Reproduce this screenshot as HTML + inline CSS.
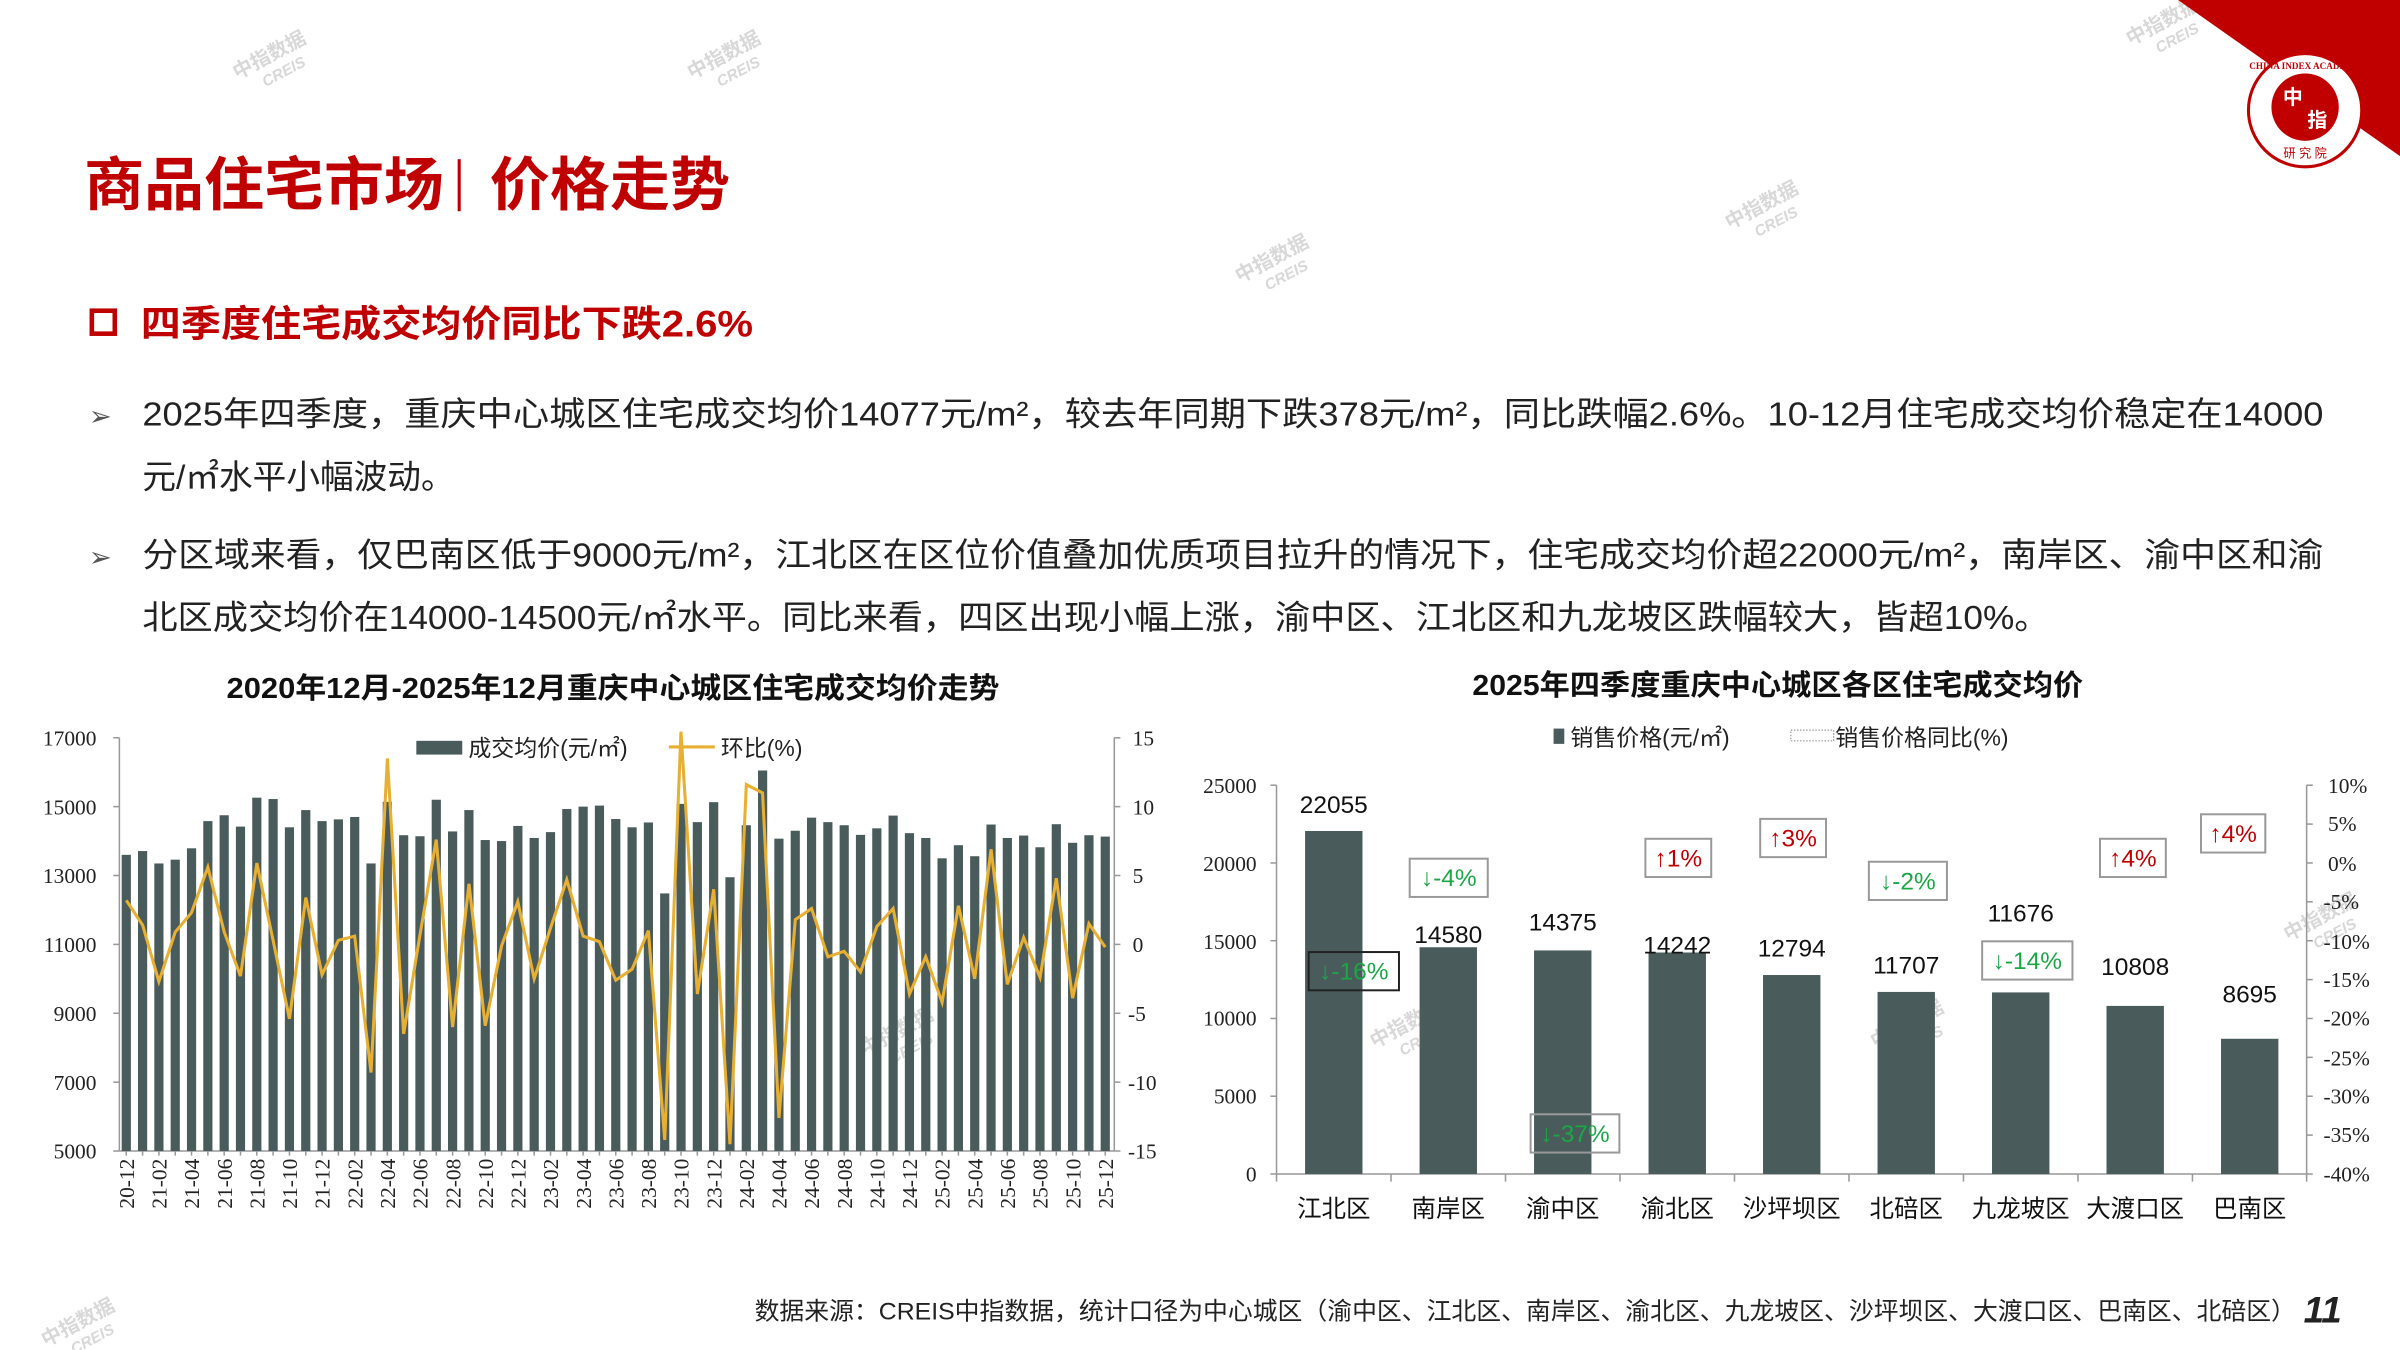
<!DOCTYPE html>
<html><head><meta charset="utf-8"><style>
html,body{margin:0;padding:0;background:#fff;}
svg{display:block;}
.cn{font-family:"Liberation Sans","Noto Sans CJK SC",sans-serif;}
.sr{font-family:"Liberation Serif","Noto Serif CJK SC",serif;}
</style></head><body>
<svg id="s" width="2400" height="1350" viewBox="0 0 1568 882" xmlns="http://www.w3.org/2000/svg">
<rect width="1568" height="882" fill="#fff"/>
<g fill="#d8d8d8" class="cn" font-size="13" font-weight="bold">
<g transform="translate(155,52) rotate(-28)"><text>中指数据</text><text x="14" y="13" font-size="10" font-style="italic">CREIS</text></g>
<g transform="translate(452,52) rotate(-28)"><text>中指数据</text><text x="14" y="13" font-size="10" font-style="italic">CREIS</text></g>
<g transform="translate(810,185) rotate(-28)"><text>中指数据</text><text x="14" y="13" font-size="10" font-style="italic">CREIS</text></g>
<g transform="translate(1130,150) rotate(-28)"><text>中指数据</text><text x="14" y="13" font-size="10" font-style="italic">CREIS</text></g>
<g transform="translate(1392,30) rotate(-28)"><text>中指数据</text><text x="14" y="13" font-size="10" font-style="italic">CREIS</text></g>
<g transform="translate(30,880) rotate(-28)"><text>中指数据</text><text x="14" y="13" font-size="10" font-style="italic">CREIS</text></g>
<g transform="translate(898,685) rotate(-28)"><text>中指数据</text><text x="14" y="13" font-size="10" font-style="italic">CREIS</text></g>
<g transform="translate(1225,685) rotate(-28)"><text>中指数据</text><text x="14" y="13" font-size="10" font-style="italic">CREIS</text></g>
<g transform="translate(565,690) rotate(-28)"><text>中指数据</text><text x="14" y="13" font-size="10" font-style="italic">CREIS</text></g>
<g transform="translate(1495,615) rotate(-28)"><text>中指数据</text><text x="14" y="13" font-size="10" font-style="italic">CREIS</text></g>
</g>
<polygon points="1423,0 1568,0 1568,102" fill="#c00000"/>
<circle cx="1506" cy="72" r="37" fill="#fff" stroke="#c00000" stroke-width="2"/>
<circle cx="1506" cy="70" r="22" fill="#c00000"/>
<text x="1498" y="68" fill="#fff" font-size="13" font-weight="bold" class="cn" text-anchor="middle">中</text>
<text x="1514" y="83" fill="#fff" font-size="13" font-weight="bold" class="cn" text-anchor="middle">指</text>
<text x="1506" y="103" fill="#c00000" font-size="8" class="cn" text-anchor="middle">研 究 院</text>
<text x="1506" y="45" fill="#c00000" font-size="6" class="sr" text-anchor="middle" font-weight="bold">CHINA INDEX ACADEMY</text>
<text x="55" y="134" fill="#c00000" font-size="38" font-weight="bold" class="cn" textLength="235" lengthAdjust="spacingAndGlyphs">商品住宅市场</text>
<rect x="299" y="104" width="2" height="34" fill="#c00000"/>
<text x="320" y="134" fill="#c00000" font-size="38" font-weight="bold" class="cn" textLength="157" lengthAdjust="spacingAndGlyphs">价格走势</text>
<rect x="60" y="203" width="15" height="15" fill="none" stroke="#c00000" stroke-width="3"/>
<text x="92" y="220" fill="#c00000" font-size="24" font-weight="bold" class="cn" textLength="400" lengthAdjust="spacingAndGlyphs">四季度住宅成交均价同比下跌2.6%</text>
<g class="cn" font-size="22" fill="#222">
<text x="58" y="278" fill="#555" font-size="18">➢</text>
<text x="93" y="278" textLength="1425" lengthAdjust="spacingAndGlyphs">2025年四季度，重庆中心城区住宅成交均价14077元/m²，较去年同期下跌378元/m²，同比跌幅2.6%。10-12月住宅成交均价稳定在14000</text>
<text x="93" y="319">元/㎡水平小幅波动。</text>
<text x="58" y="370" fill="#555" font-size="18">➢</text>
<text x="93" y="370" textLength="1425" lengthAdjust="spacingAndGlyphs">分区域来看，仅巴南区低于9000元/m²，江北区在区位价值叠加优质项目拉升的情况下，住宅成交均价超22000元/m²，南岸区、渝中区和渝</text>
<text x="93" y="411" textLength="1246" lengthAdjust="spacingAndGlyphs">北区成交均价在14000-14500元/㎡水平。同比来看，四区出现小幅上涨，渝中区、江北区和九龙坡区跌幅较大，皆超10%。</text>
</g>
<text x="148" y="456" font-size="19" font-weight="bold" class="cn" fill="#111" textLength="505" lengthAdjust="spacingAndGlyphs">2020年12月-2025年12月重庆中心城区住宅成交均价走势</text>
<text x="962" y="454" font-size="19" font-weight="bold" class="cn" fill="#111" textLength="399" lengthAdjust="spacingAndGlyphs">2025年四季度重庆中心城区各区住宅成交均价</text>
<g stroke="#999" stroke-width="1" fill="none">
<line x1="78" y1="482" x2="78" y2="752"/>
<line x1="728" y1="482" x2="728" y2="752"/>
<line x1="78" y1="752" x2="728" y2="752"/>
</g>
<g id="lc"></g>
<g class="sr" font-size="14" fill="#222" text-anchor="end">
<text x="63" y="487">17000</text><text x="63" y="532">15000</text><text x="63" y="577">13000</text><text x="63" y="622">11000</text><text x="63" y="667">9000</text><text x="63" y="712">7000</text><text x="63" y="757">5000</text>
</g>
<g class="sr" font-size="14" fill="#222">
<text x="740" y="487">15</text><text x="740" y="532">10</text><text x="740" y="577">5</text><text x="740" y="622">0</text><text x="737" y="667">-5</text><text x="737" y="712">-10</text><text x="737" y="757">-15</text>
</g>
<rect x="272" y="484" width="30" height="9" fill="#4a5b5c"/>
<text x="306" y="494" font-size="15" class="cn" fill="#222">成交均价(元/㎡)</text>
<line x1="437" y1="488" x2="467" y2="488" stroke="#e8b032" stroke-width="2"/>
<line x1="445" y1="482" x2="445" y2="494" stroke="#e8b032" stroke-width="2"/>
<text x="471" y="494" font-size="15" class="cn" fill="#222">环比(%)</text>
<g stroke="#999" stroke-width="1" fill="none">
<line x1="834" y1="513" x2="834" y2="767"/>
<line x1="1507" y1="513" x2="1507" y2="767"/>
<line x1="834" y1="767" x2="1507" y2="767"/>
</g>
<g id="rc"></g>
<g class="sr" font-size="14" fill="#222" text-anchor="end">
<text x="821" y="518">25000</text><text x="821" y="569">20000</text><text x="821" y="620">15000</text><text x="821" y="670">10000</text><text x="821" y="721">5000</text><text x="821" y="772">0</text>
</g>
<g class="sr" font-size="14" fill="#222">
<text x="1521" y="518">10%</text><text x="1521" y="543">5%</text><text x="1521" y="569">0%</text><text x="1518" y="594">-5%</text><text x="1518" y="620">-10%</text><text x="1518" y="645">-15%</text><text x="1518" y="670">-20%</text><text x="1518" y="696">-25%</text><text x="1518" y="721">-30%</text><text x="1518" y="746">-35%</text><text x="1518" y="772">-40%</text>
</g>
<rect x="1015" y="476" width="7" height="10" fill="#4a5b5c"/>
<text x="1026" y="487" font-size="15" class="cn" fill="#222">销售价格(元/㎡)</text>
<rect x="1170" y="477" width="28" height="7" fill="none" stroke="#999" stroke-dasharray="1,1" stroke-width="0.8"/>
<text x="1199" y="487" font-size="15" class="cn" fill="#222">销售价格同比(%)</text>
<text x="493" y="862" font-size="16" class="cn" fill="#222" textLength="1007" lengthAdjust="spacingAndGlyphs">数据来源：CREIS中指数据，统计口径为中心城区（渝中区、江北区、南岸区、渝北区、九龙坡区、沙坪坝区、大渡口区、巴南区、北碚区）</text>
<text x="1505" y="864" font-size="24" font-weight="bold" font-style="italic" class="cn" fill="#222">11</text>
</svg>
<script>
(function(){
var NS="http://www.w3.org/2000/svg";
function el(p,t,a,txt){var e=document.createElementNS(NS,t);for(var k in a)e.setAttribute(k,a[k]);if(txt!==undefined)e.textContent=txt;p.appendChild(e);return e;}
var bars=[13600,13710,13350,13460,13790,14580,14750,14420,15260,15220,14400,14900,14580,14630,14700,13350,15140,14170,14140,15200,14280,14900,14030,14000,14440,14090,14260,14930,15000,15030,14640,14400,14540,12480,15080,14550,15130,12950,14460,16050,14070,14300,14680,14550,14460,14180,14370,14740,14230,14090,13500,13880,13560,14480,14090,14160,13820,14490,13950,14170,14130];
var rr=[3.2,1.4,-2.7,0.9,2.3,5.6,0.9,-2.3,5.9,0.3,-5.4,3.4,-2.2,0.3,0.6,-9.3,13.5,-6.5,0.7,7.6,-6.0,4.4,-5.9,-0.1,3.1,-2.5,1.2,4.7,0.6,0.2,-2.6,-1.8,1.0,-14.2,16.5,-3.6,4.0,-14.5,11.6,11.0,-12.6,1.8,2.6,-0.9,-0.5,-2.0,1.3,2.6,-3.6,-0.9,-4.2,2.8,-2.5,6.9,-2.9,0.5,-2.4,4.8,-3.9,1.5,-0.2];
var g=document.getElementById("lc");
var pts=[];
var labs=["20-12","21-02","21-04","21-06","21-08","21-10","21-12","22-02","22-04","22-06","22-08","22-10","22-12","23-02","23-04","23-06","23-08","23-10","23-12","24-02","24-04","24-06","24-08","24-10","24-12","25-02","25-04","25-06","25-08","25-10","25-12"];
for(var i=0;i<61;i++){
 var x=82.5+i*10.66;
 var y=752-(bars[i]-5000)*0.0225;
 el(g,"rect",{x:x-3,y:y,width:6,height:752-y,fill:"#4a5b5c"});
 var ly=617-rr[i]*9; if(ly<478)ly=478;
 pts.push(x.toFixed(1)+","+ly.toFixed(1));
 el(g,"line",{x1:x,y1:752,x2:x,y2:755,stroke:"#999","stroke-width":1});
 if(i%2==0){
  el(g,"text",{x:0,y:0,transform:"translate("+(x+5)+",757) rotate(-90)","text-anchor":"end","font-size":"14","class":"sr",fill:"#222"},labs[i/2]);
 }
}
el(g,"polyline",{points:pts.join(" "),fill:"none",stroke:"#e8b032","stroke-width":"2","stroke-linejoin":"miter"});
[482,527,572,617,662,707,752].forEach(function(y){el(g,"line",{x1:74,y1:y,x2:78,y2:y,stroke:"#999"});el(g,"line",{x1:728,y1:y,x2:732,y2:y,stroke:"#999"});});
var r=document.getElementById("rc");
var names=["江北区","南岸区","渝中区","渝北区","沙坪坝区","北碚区","九龙坡区","大渡口区","巴南区"];
var vals=[22055,14580,14375,14242,12794,11707,11676,10808,8695];
var ly2=[525,610,602,617,619,630,596,631,649];
for(var j=0;j<9;j++){
 var cx=834+74.8*(j+0.5);
 var bt=767-vals[j]*254/25000;
 el(r,"rect",{x:cx-18.75,y:bt,width:37.5,height:767-bt,fill:"#4a5b5c"});
 el(r,"text",{x:cx,y:ly2[j]+6,"text-anchor":"middle","font-size":"16","class":"cn",fill:"#111"},String(vals[j]));
 el(r,"text",{x:cx,y:795,"text-anchor":"middle","font-size":"16","class":"cn",fill:"#111"},names[j]);
 el(r,"line",{x1:834+74.8*j,y1:767,x2:834+74.8*j,y2:772,stroke:"#999"});
}
el(r,"line",{x1:1507,y1:767,x2:1507,y2:772,stroke:"#999"});
for(var k=0;k<=10;k++){var yy=513+k*25.4;el(r,"line",{x1:1507,y1:yy,x2:1511,y2:yy,stroke:"#999"});}
for(var k=0;k<=5;k++){var yy=513+k*50.8;el(r,"line",{x1:830,y1:yy,x2:834,y2:yy,stroke:"#999"});}
var boxes=[[855,622,59,"↓-16%","#1aa845","#222"],[921,561,51,"↓-4%","#1aa845","#999"],[1000,728,58,"↓-37%","#1aa845","#999"],[1075,548,43,"↑1%","#c00000","#999"],[1150,535,43,"↑3%","#c00000","#999"],[1221,563,51,"↓-2%","#1aa845","#999"],[1295,615,59,"↓-14%","#1aa845","#999"],[1372,548,43,"↑4%","#c00000","#999"],[1438,532,42,"↑4%","#c00000","#999"]];
boxes.forEach(function(b){
 el(r,"rect",{x:b[0],y:b[1],width:b[2],height:25,fill:"none",stroke:b[5],"stroke-width":"1.3"});
 el(r,"text",{x:b[0]+b[2]/2,y:b[1]+18,"text-anchor":"middle","font-size":"16","class":"cn",fill:b[4]},b[3]);
});
})();
</script>
</body></html>
